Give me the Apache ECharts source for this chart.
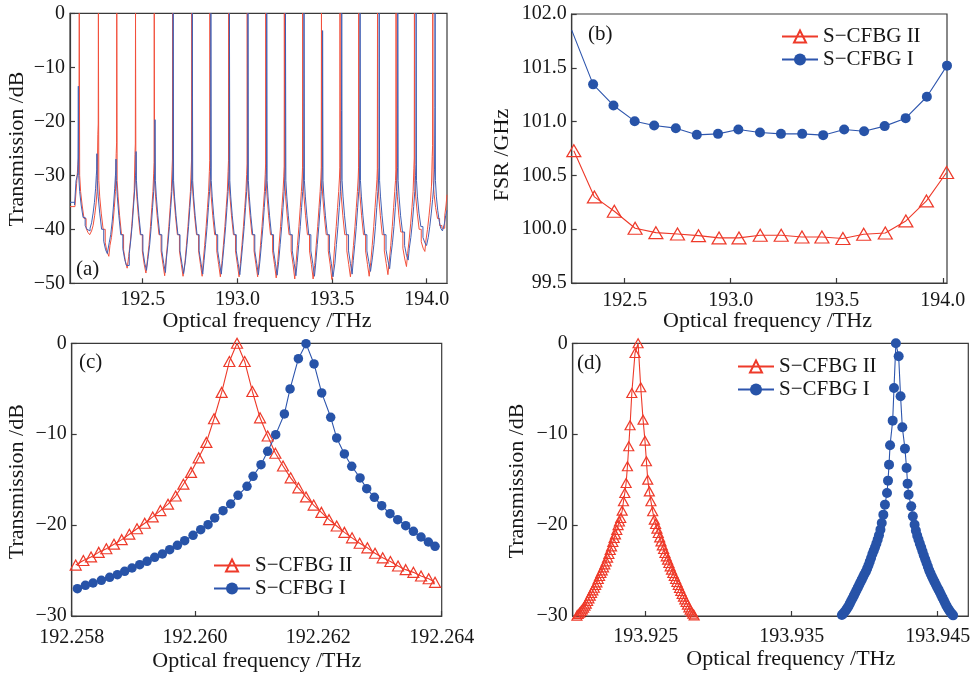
<!DOCTYPE html>
<html><head><meta charset="utf-8">
<script src="https://cdn.jsdelivr.net/npm/echarts@6/dist/echarts.min.js"></script>
<style>html,body{margin:0;padding:0;background:#fff}#c{width:974px;height:674px}</style>
</head><body><div id="c"></div>
<script>
const NAME_II = 'S\u2212CFBG II';
const NAME_I = 'S\u2212CFBG I';
const aTicks = [192.5, 193.0, 193.5, 194.0];
const bTicks = [192.5, 193.0, 193.5, 194.0];
const cTicks = [192.258, 192.260, 192.262, 192.264];
const dTicks = [193.925, 193.935, 193.945];

// (a) transmission spectra [THz, dB]
const aRed = [[192.116,-35.8],[192.142,-35.8],[192.151,-31.5],[192.158,-28],[192.163,-26],
[192.165,0],[192.167,-30],[192.172,-33],[192.180,-35.5],[192.190,-38],[192.201,-39.8],[192.211,-40.6],[192.220,-41],[192.230,-40.3],[192.238,-39.3],[192.246,-37.5],[192.253,-35.5],[192.259,-33],[192.263,-22.5],[192.265,-20.5],
[192.266,0],[192.268,-31],[192.273,-34],[192.281,-37],[192.291,-40],[192.302,-42.5],[192.312,-44.2],[192.321,-45],[192.327,-43],[192.335,-41.5],[192.343,-39],[192.350,-36],[192.356,-33],[192.360,-26],[192.362,-24],
[192.363,0],[192.365,-31],[192.370,-34],[192.378,-37.5],[192.388,-41],[192.399,-43.8],[192.409,-46],[192.418,-47.2],[192.426,-45],[192.434,-42.5],[192.442,-39.5],[192.449,-36],[192.455,-33],[192.459,-26.2],[192.461,-24.2],
[192.462,0],[192.464,-31],[192.469,-34],[192.477,-37.5],[192.487,-41],[192.498,-44],[192.508,-46.5],[192.517,-48.1],[192.525,-45.6],[192.533,-43],[192.541,-39.5],[192.548,-36],[192.554,-33],[192.558,-29.6],[192.560,-27.6],
[192.561,0],[192.563,-31],[192.568,-34],[192.576,-37.5],[192.586,-41],[192.597,-44],[192.607,-46.5],[192.616,-48.6],[192.622,-46.1],[192.630,-43],[192.638,-39.5],[192.645,-36],[192.651,-33],[192.655,-29],[192.657,-27],
[192.658,0],[192.660,-31],[192.665,-34],[192.673,-37.5],[192.683,-41],[192.694,-44],[192.704,-46.5],[192.713,-48.7],[192.723,-46.2],[192.731,-43],[192.739,-39.5],[192.746,-36],[192.752,-33],[192.756,-29],[192.758,-27],
[192.759,0],[192.761,-31],[192.766,-34],[192.774,-37.5],[192.784,-41],[192.795,-44],[192.805,-46.5],[192.814,-48.7],[192.819,-46.2],[192.827,-43],[192.835,-39.5],[192.842,-36],[192.848,-33],[192.852,-29.3],[192.854,-27.3],
[192.855,0],[192.857,-31],[192.862,-34],[192.870,-37.5],[192.880,-41],[192.891,-44],[192.901,-46.5],[192.910,-48.8],[192.918,-46.3],[192.926,-43],[192.934,-39.5],[192.941,-36],[192.947,-33],[192.951,-29.3],[192.953,-27.3],
[192.954,0],[192.956,-31],[192.961,-34],[192.969,-37.5],[192.979,-41],[192.990,-44],[193.000,-46.5],[193.009,-48.8],[193.016,-46.3],[193.024,-43],[193.032,-39.5],[193.039,-36],[193.045,-33],[193.049,-29.9],[193.051,-27.9],
[193.052,0],[193.054,-31],[193.059,-34],[193.067,-37.5],[193.077,-41],[193.088,-44],[193.098,-46.5],[193.107,-48.8],[193.114,-46.3],[193.122,-43],[193.130,-39.5],[193.137,-36],[193.143,-33],[193.147,-29.9],[193.149,-27.9],
[193.150,0],[193.152,-31],[193.157,-34],[193.165,-37.5],[193.175,-41],[193.186,-44],[193.196,-46.5],[193.205,-49],[193.212,-46.5],[193.220,-43],[193.228,-39.5],[193.235,-36],[193.241,-33],[193.245,-30.3],[193.247,-28.3],
[193.248,0],[193.250,-31],[193.255,-34],[193.263,-37.5],[193.273,-41],[193.284,-44],[193.294,-46.5],[193.303,-49.2],[193.309,-46.7],[193.317,-43],[193.325,-39.5],[193.332,-36],[193.338,-33],[193.342,-30.5],[193.344,-28.5],
[193.345,0],[193.347,-31],[193.352,-34],[193.360,-37.5],[193.370,-41],[193.381,-44],[193.391,-46.5],[193.400,-49.2],[193.408,-46.7],[193.416,-43],[193.424,-39.5],[193.431,-36],[193.437,-33],[193.441,-30.5],[193.443,-28.5],
[193.444,0],[193.446,-31],[193.451,-34],[193.459,-37.5],[193.469,-41],[193.480,-44],[193.490,-46.5],[193.499,-49.3],[193.506,-46.8],[193.514,-43],[193.522,-39.5],[193.529,-36],[193.535,-33],[193.539,-30.5],[193.541,-28.5],
[193.542,0],[193.544,-31],[193.549,-34],[193.557,-37.5],[193.567,-41],[193.578,-44],[193.588,-46.5],[193.597,-48.8],[193.605,-46.3],[193.613,-43],[193.621,-39.5],[193.628,-36],[193.634,-33],[193.638,-30.5],[193.640,-28.5],
[193.641,0],[193.643,-31],[193.648,-34],[193.656,-37.5],[193.666,-41],[193.677,-44],[193.687,-46.5],[193.696,-48.7],[193.704,-46.2],[193.712,-43],[193.720,-39.5],[193.727,-36],[193.733,-33],[193.737,-30.8],[193.739,-28.8],
[193.740,0],[193.742,-31],[193.747,-34],[193.755,-37.5],[193.765,-41],[193.776,-44],[193.786,-46.3],[193.795,-48.4],[193.802,-45.9],[193.810,-43],[193.818,-39.5],[193.825,-36],[193.831,-33],[193.835,-31],[193.837,-29],
[193.838,0],[193.840,-31],[193.845,-34],[193.853,-37.5],[193.863,-40.5],[193.874,-43.5],[193.884,-45.5],[193.893,-46.9],[193.899,-44.5],[193.907,-42],[193.915,-39],[193.922,-36],[193.928,-33],[193.932,-28.8],[193.934,-26.8],
[193.935,0],[193.937,-31],[193.942,-34],[193.950,-37],[193.960,-40],[193.971,-42.3],[193.981,-43.5],[193.990,-44.1],[193.996,-42],[194.004,-40],[194.012,-37.5],[194.019,-35],[194.025,-32],[194.029,-26.5],[194.031,-24.5],
[194.032,0],[194.034,-31],[194.039,-33.5],[194.047,-36],[194.057,-38],[194.068,-39.3],[194.080,-39.8],[194.087,-39.8],[194.095,-37.5],[194.102,-35.5],[194.107,-33.6]];

const aBlue = [[192.116,-35],[192.140,-35.5],[192.148,-31],[192.155,-30],[192.158,-29.5],
[192.160,-13.5],[192.162,-30],[192.167,-33],[192.175,-35.5],[192.185,-37.8],[192.196,-39.3],[192.206,-40],[192.215,-40.3],[192.222,-39.8],[192.230,-38.8],[192.238,-37],[192.245,-35],[192.251,-32.5],[192.255,-30],[192.257,-29],
[192.258,-26],[192.260,-31],[192.265,-34],[192.273,-37],[192.283,-40],[192.294,-42.2],[192.304,-43.8],[192.313,-44.5],[192.323,-42.5],[192.331,-41],[192.339,-38.5],[192.346,-35.5],[192.352,-32.5],[192.356,-30],[192.358,-29],
[192.359,-27],[192.361,-31],[192.366,-34],[192.374,-37.5],[192.384,-41],[192.395,-43.6],[192.405,-45.6],[192.414,-46.7],[192.429,-44.5],[192.437,-42],[192.445,-39],[192.452,-35.5],[192.458,-32.5],[192.462,-30],[192.464,-29],
[192.465,-25.6],[192.467,-31],[192.472,-34],[192.480,-37.5],[192.490,-41],[192.501,-44],[192.511,-46.3],[192.520,-47.6],[192.529,-45.1],[192.537,-42.8],[192.545,-39.5],[192.552,-36],[192.558,-33],[192.562,-30.5],[192.564,-29],
[192.565,-19.7],[192.567,-31],[192.572,-34],[192.580,-37.5],[192.590,-41],[192.601,-44],[192.611,-46.3],[192.620,-48],[192.625,-45.5],[192.633,-42.8],[192.641,-39.5],[192.648,-36],[192.654,-33],[192.658,-30.5],[192.660,-28.5],
[192.661,0],[192.663,-31],[192.668,-34],[192.676,-37.5],[192.686,-41],[192.697,-44],[192.707,-46.3],[192.716,-48.2],[192.726,-45.7],[192.734,-42.8],[192.742,-39.5],[192.749,-36],[192.755,-33],[192.759,-30.5],[192.761,-20],
[192.762,0],[192.764,-31],[192.769,-34],[192.777,-37.5],[192.787,-41],[192.798,-44],[192.808,-46.3],[192.817,-48.3],[192.824,-45.8],[192.832,-42.8],[192.840,-39.5],[192.847,-36],[192.853,-33],[192.857,-30.5],[192.859,-28.5],
[192.860,0],[192.862,-31],[192.867,-34],[192.875,-37.5],[192.885,-41],[192.896,-44],[192.906,-46.3],[192.915,-48.3],[192.922,-45.8],[192.930,-42.8],[192.938,-39.5],[192.945,-36],[192.951,-33],[192.955,-30.5],[192.957,-28.5],
[192.958,0],[192.960,-31],[192.965,-34],[192.973,-37.5],[192.983,-41],[192.994,-44],[193.004,-46.3],[193.013,-48.4],[193.020,-45.9],[193.028,-42.8],[193.036,-39.5],[193.043,-36],[193.049,-33],[193.053,-30.5],[193.055,-28.5],
[193.056,0],[193.058,-31],[193.063,-34],[193.071,-37.5],[193.081,-41],[193.092,-44],[193.102,-46.3],[193.111,-48.4],[193.119,-45.9],[193.127,-42.8],[193.135,-39.5],[193.142,-36],[193.148,-33],[193.152,-30.5],[193.154,-28.5],
[193.155,0],[193.157,-31],[193.162,-34],[193.170,-37.5],[193.180,-41],[193.191,-44],[193.201,-46.3],[193.210,-48.5],[193.218,-46],[193.226,-42.8],[193.234,-39.5],[193.241,-36],[193.247,-33],[193.251,-30.5],[193.253,-28.5],
[193.254,0],[193.256,-31],[193.261,-34],[193.269,-37.5],[193.279,-41],[193.290,-44],[193.300,-46.3],[193.309,-48.6],[193.316,-46.1],[193.324,-42.8],[193.332,-39.5],[193.339,-36],[193.345,-33],[193.349,-30.5],[193.351,-28.5],
[193.352,0],[193.354,-31],[193.359,-34],[193.367,-37.5],[193.377,-41],[193.388,-44],[193.398,-46.3],[193.407,-48.7],[193.414,-46.2],[193.422,-42.8],[193.430,-39.5],[193.437,-36],[193.443,-33],[193.447,-30.5],[193.449,-28.5],
[193.450,-3.2],[193.452,-31],[193.457,-34],[193.465,-37.5],[193.475,-41],[193.486,-44],[193.496,-46.3],[193.505,-48.8],[193.515,-46.3],[193.523,-42.8],[193.531,-39.5],[193.538,-36],[193.544,-33],[193.548,-30.5],[193.550,-18],
[193.551,0],[193.553,-31],[193.558,-34],[193.566,-37.5],[193.576,-41],[193.587,-44],[193.597,-46.3],[193.606,-48.3],[193.612,-45.8],[193.620,-42.8],[193.628,-39.5],[193.635,-36],[193.641,-33],[193.645,-30.5],[193.647,-25],
[193.648,0],[193.650,-31],[193.655,-34],[193.663,-37.5],[193.673,-41],[193.684,-44],[193.694,-46],[193.703,-47.8],[193.713,-45.3],[193.721,-42.8],[193.729,-39.5],[193.736,-36],[193.742,-33],[193.746,-30.5],[193.748,-28.5],
[193.749,0],[193.751,-31],[193.756,-34],[193.764,-37.5],[193.774,-41],[193.785,-43.8],[193.795,-45.8],[193.804,-47.3],[193.811,-44.8],[193.819,-42.5],[193.827,-39.5],[193.834,-36],[193.840,-33],[193.844,-30.5],[193.846,-28.5],
[193.847,0],[193.849,-31],[193.854,-34],[193.862,-37.5],[193.872,-40.5],[193.883,-43],[193.893,-44.8],[193.902,-45.7],[193.908,-43.5],[193.916,-41.5],[193.924,-38.8],[193.931,-35.8],[193.937,-33],[193.941,-30],[193.943,-28],
[193.944,0],[193.946,-31],[193.951,-34],[193.959,-37],[193.969,-39.5],[193.980,-41.5],[193.990,-42.5],[193.999,-43],[194.008,-41.5],[194.016,-39.5],[194.024,-37],[194.031,-34.5],[194.037,-32],[194.041,-29],[194.043,-17.5],
[194.044,0],[194.046,-31],[194.051,-34],[194.058,-36.5],[194.066,-38.5],[194.074,-39.8],[194.083,-40.3],[194.093,-39],[194.100,-37.5],[194.107,-36.5]];

// (b) FSR [THz, GHz]
const bRed = [[192.26,100.73],[192.357,100.30],[192.451,100.167],[192.549,100.009],[192.647,99.968],[192.749,99.956],[192.848,99.94],[192.945,99.919],[193.039,99.919],[193.139,99.944],[193.238,99.944],[193.336,99.928],[193.43,99.928],[193.529,99.913],[193.627,99.953],[193.729,99.965],[193.826,100.077],[193.923,100.263],[194.018,100.527]];
const bBlue = [[192.25,101.85],[192.351,101.346],[192.447,101.15],[192.547,101.004],[192.639,100.964],[192.741,100.939],[192.84,100.877],[192.94,100.886],[193.036,100.927],[193.138,100.899],[193.237,100.886],[193.337,100.886],[193.436,100.874],[193.535,100.927],[193.629,100.911],[193.726,100.958],[193.825,101.032],[193.925,101.231],[194.02,101.52]];

// (c) zoomed channel near 192.26 THz [THz, dB]
const cRed = [[192.258065,-24.4],[192.258189,-23.9],[192.258314,-23.5],[192.258438,-23.0],[192.258562,-22.6],[192.258686,-22.1],[192.258811,-21.6],[192.258935,-21.0],[192.259059,-20.4],[192.259184,-19.8],[192.259314,-19.1],[192.259438,-18.4],[192.259562,-17.7],[192.259686,-16.8],[192.259811,-15.5],[192.259935,-14.2],[192.260059,-12.6],[192.260184,-10.9],[192.260308,-8.3],[192.260432,-5.4],[192.260557,-2.0],[192.260681,0],[192.260805,-2.0],[192.260930,-5.3],[192.261054,-8.2],[192.261178,-10.2],[192.261303,-12.1],[192.261427,-13.5],[192.261551,-14.8],[192.261676,-15.9],[192.261800,-16.9],[192.261924,-17.8],[192.262049,-18.6],[192.262173,-19.4],[192.262297,-20.1],[192.262422,-20.8],[192.262546,-21.4],[192.262670,-22.0],[192.262795,-22.5],[192.262919,-23.1],[192.263043,-23.6],[192.263168,-24.0],[192.263292,-24.5],[192.263416,-24.9],[192.263541,-25.2],[192.263665,-25.6],[192.263789,-25.9],[192.263892,-26.3]];
const cBlue = [[192.258092,-26.99],[192.258222,-26.62],[192.258346,-26.37],[192.258481,-26.07],[192.258616,-25.74],[192.258741,-25.45],[192.258859,-25.08],[192.258978,-24.72],[192.259103,-24.35],[192.259222,-23.98],[192.259346,-23.54],[192.259470,-23.18],[192.259589,-22.70],[192.259714,-22.22],[192.259832,-21.71],[192.259968,-21.12],[192.260092,-20.50],[192.260211,-19.95],[192.260319,-19.21],[192.260454,-18.41],[192.260578,-17.68],[192.260697,-16.72],[192.260843,-15.73],[192.260941,-14.63],[192.261070,-13.35],[192.261178,-11.88],[192.261308,-10.05],[192.261449,-7.77],[192.261541,-5.02],[192.261676,-1.69],[192.261800,-0.04],[192.261930,-2.27],[192.262054,-5.46],[192.262200,-8.14],[192.262297,-10.41],[192.262422,-12.17],[192.262541,-13.53],[192.262676,-14.81],[192.262784,-15.99],[192.262908,-16.94],[192.263027,-17.86],[192.263162,-18.74],[192.263286,-19.40],[192.263416,-20.06],[192.263541,-20.68],[192.263665,-21.31],[192.263784,-21.86],[192.263892,-22.33]];

// (d) channels near 193.925 / 193.942 THz [THz, dB]
const dRed = [[193.92011,-30.2],[193.92020,-30.07],[193.92029,-29.96],[193.92038,-29.78],[193.92048,-29.63],[193.92057,-29.45],[193.92066,-29.27],[193.92075,-29.08],[193.92084,-28.86],[193.92093,-28.64],[193.92102,-28.35],[193.92111,-28.06],[193.92120,-27.76],[193.92129,-27.47],[193.92138,-27.18],[193.92148,-26.89],[193.92157,-26.59],[193.92166,-26.3],[193.92175,-25.93],[193.92184,-25.6],[193.92193,-25.27],[193.92202,-24.98],[193.92211,-24.65],[193.92220,-24.32],[193.92229,-23.99],[193.92239,-23.58],[193.92248,-23.18],[193.92257,-22.74],[193.92266,-22.34],[193.92275,-21.86],[193.92284,-21.42],[193.92293,-21.02],[193.92302,-20.54],[193.92311,-20.0],[193.92320,-19.6],[193.92329,-19.22],[193.92339,-18.41],[193.92348,-17.38],[193.92357,-16.47],[193.92366,-15.37],[193.92375,-13.53],[193.92384,-11.33],[193.92393,-9.02],[193.92405,-5.47],[193.92427,-1.07],[193.92448,0],
[193.92466,-4.84],[193.92482,-8.40],[193.92495,-10.71],[193.92505,-12.98],[193.92514,-15.0],[193.92525,-16.29],[193.92536,-17.38],[193.92548,-18.48],[193.92559,-19.4],[193.92568,-19.88],[193.92577,-20.39],[193.92586,-20.87],[193.92596,-21.35],[193.92605,-21.79],[193.92614,-22.23],[193.92623,-22.63],[193.92632,-23.07],[193.92641,-23.44],[193.92650,-23.8],[193.92659,-24.17],[193.92668,-24.54],[193.92677,-24.9],[193.92686,-25.27],[193.92696,-25.6],[193.92705,-25.93],[193.92714,-26.26],[193.92723,-26.59],[193.92732,-26.92],[193.92741,-27.25],[193.92750,-27.58],[193.92759,-27.87],[193.92768,-28.17],[193.92777,-28.46],[193.92786,-28.75],[193.92796,-29.05],[193.92805,-29.3],[193.92814,-29.52],[193.92823,-29.74],[193.92832,-29.93],[193.92841,-30.11]];
const dBlue = [[193.93835,-30.04],[193.93844,-29.89],[193.93853,-29.74],[193.93862,-29.56],[193.93871,-29.38],[193.93880,-29.16],[193.93889,-28.94],[193.93898,-28.64],[193.93907,-28.35],[193.93917,-28.06],[193.93926,-27.76],[193.93935,-27.47],[193.93944,-27.18],[193.93953,-26.88],[193.93962,-26.59],[193.93971,-26.3],[193.93980,-26.0],[193.93989,-25.71],[193.93998,-25.42],[193.94008,-25.12],[193.94017,-24.79],[193.94026,-24.43],[193.94035,-24.02],[193.94044,-23.62],[193.94053,-23.18],[193.94062,-22.81],[193.94071,-22.45],[193.94080,-22.04],[193.94089,-21.6],[193.94098,-21.13],[193.94108,-20.5],[193.94117,-19.77],[193.94128,-18.85],[193.94139,-17.75],[193.94153,-16.47],[193.94160,-15.11],[193.94167,-13.35],[193.94174,-11.22],[193.94192,-8.51],[193.94201,-4.92],[193.94214,0],
[193.94233,-1.43],[193.94246,-5.83],[193.94258,-9.24],[193.94276,-11.59],[193.94287,-13.72],[193.94294,-15.44],[193.94301,-16.65],[193.94319,-17.94],[193.94330,-19.04],[193.94342,-19.95],[193.94351,-20.61],[193.94360,-21.16],[193.94369,-21.6],[193.94378,-22.04],[193.94387,-22.45],[193.94396,-22.89],[193.94405,-23.33],[193.94415,-23.77],[193.94424,-24.17],[193.94433,-24.57],[193.94442,-24.98],[193.94451,-25.31],[193.94460,-25.64],[193.94469,-25.93],[193.94478,-26.22],[193.94487,-26.52],[193.94496,-26.81],[193.94506,-27.1],[193.94515,-27.39],[193.94524,-27.69],[193.94533,-27.98],[193.94542,-28.28],[193.94551,-28.57],[193.94560,-28.86],[193.94569,-29.12],[193.94578,-29.34],[193.94587,-29.56],[193.94596,-29.74],[193.94606,-29.93]];

const FONT = 'Liberation Serif';
const AX = '#3a3a3a', TXT = '#161616';
const RED = '#ee3a2a', BLUE = '#2d55ad', BLUEF = '#2753a8';
const A_RED = '#f2503c', A_BLUE = '#4260b4';

function minus(v, dec) {
  const s = Math.abs(v).toFixed(dec);
  return v < 0 ? '\u2212' + s : s;
}
function grid(l, t, w, h) {
  return {left: l, top: t, width: w, height: h, show: true, borderColor: AX, borderWidth: 1.2,
    backgroundColor: 'transparent', containLabel: false, outerBoundsMode: 'none'};
}
function xAx(gi, min, max, ticks, dec, margin) {
  return {type: 'value', gridIndex: gi, min: min, max: max,
    axisLine: {show: true, onZero: false, lineStyle: {color: AX, width: 1.2}},
    axisTick: {show: true, inside: true, length: 5, customValues: ticks, lineStyle: {color: AX, width: 1.2}},
    axisLabel: {customValues: ticks, formatter: v => Number(v).toFixed(dec), margin: margin,
      color: TXT, fontFamily: FONT, fontSize: 20},
    splitLine: {show: false}};
}
function yAx(gi, min, max, interval, dec) {
  return {type: 'value', gridIndex: gi, min: min, max: max, interval: interval,
    axisLine: {show: true, onZero: false, lineStyle: {color: AX, width: 1.2}},
    axisTick: {show: true, inside: true, length: 5, lineStyle: {color: AX, width: 1.2}},
    axisLabel: {formatter: v => minus(v, dec), margin: 5, color: TXT, fontFamily: FONT, fontSize: 20},
    splitLine: {show: false}};
}
function redMarkSeries(name, xi, data, size) {
  return {name: name, type: 'line', xAxisIndex: xi, yAxisIndex: xi, data: data,
    symbol: 'triangle', symbolSize: size, showAllSymbol: true, animation: false,
    lineStyle: {color: RED, width: 1.1},
    itemStyle: {color: 'rgba(255,255,255,0)', borderColor: RED, borderWidth: 1.2}};
}
function blueMarkSeries(name, xi, data, size) {
  return {name: name, type: 'line', xAxisIndex: xi, yAxisIndex: xi, data: data,
    symbol: 'circle', symbolSize: size, showAllSymbol: true, animation: false,
    lineStyle: {color: BLUE, width: 1.1},
    itemStyle: {color: BLUEF, borderWidth: 0}};
}
function txt(text, x, y, size, rot, align) {
  const el = {type: 'text', x: x, y: y, silent: true,
    style: {text: text, font: size + 'px "' + FONT + '"', fill: TXT,
      align: align || 'center', textAlign: align || 'center', verticalAlign: 'middle', textVerticalAlign: 'middle'}};
  if (rot) el.rotation = rot;
  return el;
}
function legend(left, top) {
  return {orient: 'vertical', left: left, top: top, itemWidth: 36, itemHeight: 15, itemGap: 2,
    data: [NAME_II, NAME_I], selectedMode: false,
    textStyle: {fontFamily: FONT, fontSize: 21, color: TXT}};
}

const bBlueData = bBlue.map((p, i) => i === 0 ? {value: p, symbol: 'none'} : p);

const chart = echarts.init(document.getElementById('c'), null, {renderer: 'canvas'});
chart.setOption({
  animation: false,
  backgroundColor: '#fff',
  grid: [grid(70, 13.3, 377, 270), grid(571.7, 14, 375.3, 269), grid(71.7, 343.3, 370, 272.7), grid(572.7, 343.3, 395.6, 272.7)],
  xAxis: [xAx(0, 192.116, 194.107, aTicks, 1, 6), xAx(1, 192.25, 194.02, bTicks, 1, 8),
          xAx(2, 192.258, 192.264, cTicks, 3, 12), xAx(3, 193.920, 193.9471, dTicks, 3, 11)],
  yAxis: [yAx(0, -50, 0, 10, 0), yAx(1, 99.5, 102.0, 0.5, 1), yAx(2, -30, 0, 10, 0), yAx(3, -30, 0, 10, 0)],
  legend: [legend(776, 21), legend(208, 550), legend(732, 351)],
  series: [
    redMarkSeries(NAME_II, 1, bRed, [14, 12]),
    blueMarkSeries(NAME_I, 1, bBlueData, 10),
    redMarkSeries(NAME_II, 2, cRed, [11, 10]),
    blueMarkSeries(NAME_I, 2, cBlue, 9.5),
    redMarkSeries(NAME_II, 3, dRed, [10, 9]),
    blueMarkSeries(NAME_I, 3, dBlue, 10),
    {name: NAME_II, type: 'line', xAxisIndex: 0, yAxisIndex: 0, data: aRed, showSymbol: false, symbol: 'none',
      step: 'end', lineStyle: {color: A_RED, width: 1}, animation: false},
    {name: NAME_I, type: 'line', xAxisIndex: 0, yAxisIndex: 0, data: aBlue, showSymbol: false, symbol: 'none',
      step: 'end', lineStyle: {color: A_BLUE, width: 1}, animation: false}
  ],
  graphic: [
    txt('(a)', 76, 269, 21, 0, 'left'),
    txt('(b)', 588, 34, 21, 0, 'left'),
    txt('(c)', 79, 362, 21, 0, 'left'),
    txt('(d)', 577, 363, 21, 0, 'left'),
    txt('Optical frequency /THz', 267, 321, 22),
    txt('Optical frequency /THz', 767.5, 321, 22),
    txt('Optical frequency /THz', 256.7, 661, 22),
    txt('Optical frequency /THz', 790.8, 659.5, 22),
    txt('Transmission /dB', 17.5, 149, 22, Math.PI / 2),
    txt('FSR /GHz', 502.5, 155, 22, Math.PI / 2),
    txt('Transmission /dB', 17.5, 481.7, 22, Math.PI / 2),
    txt('Transmission /dB', 517.6, 481, 22, Math.PI / 2)
  ]
});
</script>
</body></html>
